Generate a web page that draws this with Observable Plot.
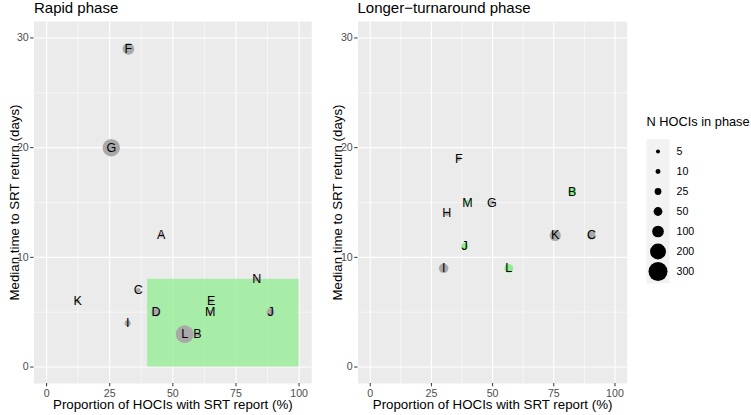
<!DOCTYPE html>
<html><head><meta charset="utf-8">
<script src="https://cdn.jsdelivr.net/npm/d3@7"></script>
<script src="https://cdn.jsdelivr.net/npm/@observablehq/plot@0.6"></script>
<style>
body{margin:0;background:#fff;font-family:"Liberation Sans",Arial,sans-serif;}
#root{position:relative;width:751px;height:415px;overflow:hidden;background:#fff;}
.abs{position:absolute;}
.title{font-size:15px;line-height:15px;color:#000;white-space:nowrap;}
</style></head><body><div id="root"></div>
<script>
// ---- data ----
const rapidLabels = ["A","B","C","D","E","F","G","I","J","K","L","M","N"];
const rapidX      = [45.4, 59.7, 36.3, 43.3, 65.2, 32.4, 25.6, 32.1, 88.7, 12.3, 54.7, 64.8, 83.2];
const rapidY      = [12, 3, 7, 5, 6, 29, 20, 4, 5, 6, 3, 5, 8];
const rapidN      = [6, 8, 8, 50, 6, 100, 250, 18, 35, 5, 260, 8, 8];

const longerLabels = ["B","C","F","G","H","I","J","K","L","M"];
const longerX      = [82.5, 90.4, 36.2, 49.7, 31.3, 30.0, 38.6, 75.6, 56.6, 39.7];
const longerY      = [16, 12, 19, 15, 14, 9, 11, 12, 9, 15];
const longerN      = [40, 40, 8, 8, 8, 60, 25, 90, 50, 10];
const longerGroup  = ["target","other","other","other","other","other","target","other","target","target"];

const targetX = [40, 100];   // target zone, proportion (%)
const targetY = [0, 8];      // target zone, days

const legendN = [5, 10, 25, 50, 100, 200, 300];
const xMajor = [0, 25, 50, 75, 100];
const xMinor = [12.5, 37.5, 62.5, 87.5];
const yMajor = [0, 10, 20, 30];
const yMinor = [5, 15, 25];

const xTitle = "Proportion of HOCIs with SRT report (%)";
const yTitle = "Median time to SRT return (days)";

// ---- shared ----
const FONT = "Liberation Sans, Arial, sans-serif";
const rScale = {type: "pow", exponent: 0.5, domain: [1, 300], range: [1.4, 9.5]};
const colorScale = {type: "ordinal", domain: ["other", "target"], range: ["#A9A9A9", "#90EE90"]};

const rapid = rapidLabels.map((l, i) => ({label: l, x: rapidX[i], y: rapidY[i], n: rapidN[i], g: "other"}));
const longer = longerLabels.map((l, i) => ({label: l, x: longerX[i], y: longerY[i], n: longerN[i], g: longerGroup[i]}));
const zone = [{x1: targetX[0], x2: targetX[1], y1: targetY[0], y2: targetY[1]}];

function panel(data, {marginLeft, marginRight, withZone, yTitleDx}) {
  return Plot.plot({
    width: 320, height: 415,
    marginLeft, marginRight, marginTop: 21, marginBottom: 32,
    x: {domain: [-5, 105]},
    y: {domain: [-1.5, 31.5]},
    r: rScale,
    color: colorScale,
    style: {fontFamily: FONT, background: "transparent", overflow: "visible"},
    marks: [
      Plot.frame({fill: "#EBEBEB", stroke: null}),
      Plot.gridX({ticks: xMinor, stroke: "white", strokeOpacity: 1, strokeWidth: 0.55}),
      Plot.gridY({ticks: yMinor, stroke: "white", strokeOpacity: 1, strokeWidth: 0.55}),
      Plot.gridX({ticks: xMajor, stroke: "white", strokeOpacity: 1, strokeWidth: 1.1}),
      Plot.gridY({ticks: yMajor, stroke: "white", strokeOpacity: 1, strokeWidth: 1.1}),
      withZone ? Plot.rect(zone, {x1: "x1", x2: "x2", y1: "y1", y2: "y2", fill: "#90EE90", fillOpacity: 0.75}) : null,
      Plot.dot(data, {x: "x", y: "y", r: "n", fill: "g", stroke: null}),
      Plot.text(data, {x: "x", y: "y", text: "label", fontSize: 12.5, fill: "black"}),
      Plot.axisX({ticks: xMajor, tickSize: 3.3, tickPadding: 2.3, fontSize: 10.6, fill: "#4D4D4D", stroke: "#333333", label: null}),
      Plot.axisY({ticks: yMajor, tickSize: 3.3, tickPadding: 2, fontSize: 10.6, fill: "#4D4D4D", stroke: "#333333", label: null}),
      Plot.text([xTitle], {text: d => d, frameAnchor: "bottom", textAnchor: "middle", lineAnchor: "middle", dy: 21.5, fontSize: 13.3, fill: "black"}),
      Plot.text([yTitle], {text: d => d, frameAnchor: "left", textAnchor: "middle", lineAnchor: "middle", rotate: -90, dx: yTitleDx, fontSize: 13.3, fill: "black"})
    ]
  });
}

const root = document.getElementById("root");
function place(el, left, top) { el.classList.add("abs"); el.style.left = left + "px"; el.style.top = top + "px"; root.appendChild(el); }

const left = panel(rapid, {marginLeft: 33.5, marginRight: 8.8, withZone: true, yTitleDx: -19.5});
place(left, 0, 0);
const right = panel(longer, {marginLeft: 37.5, marginRight: 13.3, withZone: false, yTitleDx: -20.5});
place(right, 320, 0);

const legend = Plot.plot({
  width: 111, height: 200,
  marginLeft: 6, marginRight: 82, marginTop: 38.7, marginBottom: 17.1,
  x: {domain: [0, 1], axis: null},
  y: {type: "point", domain: legendN, padding: 0.5, axis: null},
  r: rScale,
  style: {fontFamily: FONT, background: "transparent", overflow: "visible"},
  marks: [
    Plot.frame({fill: "#F2F2F2", stroke: null}),
    Plot.dot(legendN, {y: d => d, r: d => d, fill: "black", stroke: null}),
    Plot.text(legendN, {y: d => d, text: d => String(d), frameAnchor: "right", dx: 7, textAnchor: "start", fontSize: 10.6, fill: "black"}),
    Plot.text(["N HOCIs in phase"], {text: d => d, frameAnchor: "top-left", textAnchor: "start", lineAnchor: "middle", dy: -17, fontSize: 12.8, fill: "black"})
  ]
});
place(legend, 640, 100);

function title(txt, leftPx, topPx) {
  const d = document.createElement("div");
  d.className = "title";
  d.textContent = txt;
  place(d, leftPx, topPx);
}
title("Rapid phase", 34, 0);
title("Longer\u2212turnaround phase", 357.5, 0);
</script></body></html>
